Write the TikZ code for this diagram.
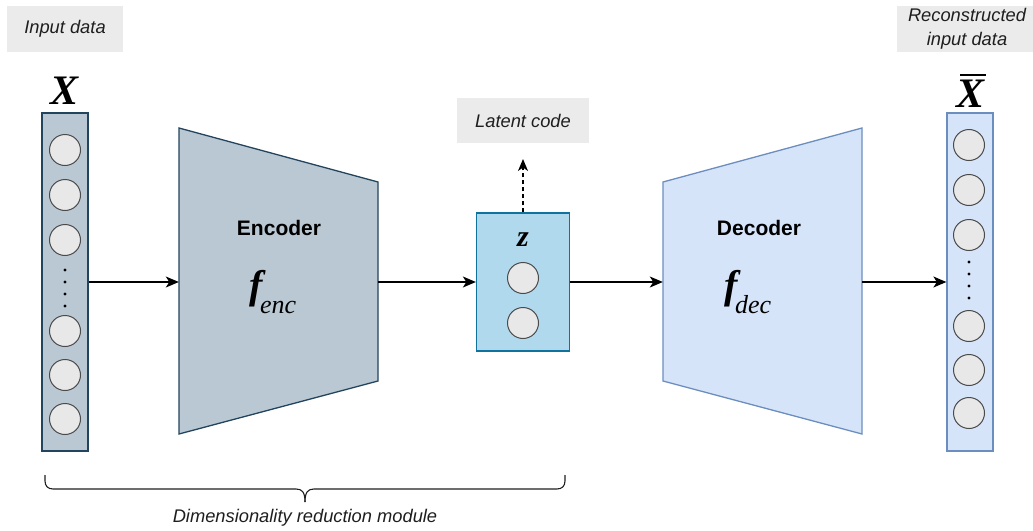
\documentclass[tikz,border=0pt]{standalone}
\usepackage{fontspec}
\setmainfont{Liberation Sans}
\newfontfamily\tnr{Liberation Serif}
\usetikzlibrary{arrows.meta}
\definecolor{encfill}{HTML}{BAC8D3}
\definecolor{encdraw}{HTML}{23445D}
\definecolor{decfill}{HTML}{D6E4FA}
\definecolor{decdraw}{HTML}{6C8EBF}
\definecolor{zfill}{HTML}{B1D9EE}
\definecolor{zdraw}{HTML}{10739E}
\definecolor{cfill}{HTML}{E8E8E8}
\definecolor{cdraw}{HTML}{4A4A4A}
\definecolor{lblfill}{HTML}{EBEBEB}
\definecolor{txt}{HTML}{1E1E1E}
\tikzset{
  lblbox/.style={fill=lblfill, inner sep=0pt, text=txt, font=\fontsize{18.3}{21}\selectfont\itshape, align=center},
  neuron/.style={circle, minimum size=31pt, inner sep=0pt, fill=cfill, draw=cdraw, line width=1pt},
  dotn/.style={circle, minimum size=3.2pt, inner sep=0pt, fill=black},
  flow/.style={line width=1.3pt, -{Stealth[length=13pt,width=11pt,inset=3.5pt]}},
  colbox/.style={rectangle, inner sep=0pt, line width=1.3pt},
  ghost/.style={rectangle, inner sep=0pt},
  bigvar/.style={inner sep=0pt, font=\tnr\fontsize{42}{42}\selectfont\bfseries\itshape},
  blockname/.style={inner sep=0pt, font=\fontsize{21}{24}\selectfont\bfseries},
}
\newcommand{\fsub}[1]{{\tnr\fontsize{40}{40}\selectfont\bfseries\itshape f}\kern-3pt\raisebox{-15pt}{\tnr\fontsize{26}{26}\selectfont\itshape #1}}
\begin{document}
\begin{tikzpicture}[x=1pt,y=-1pt]
\useasboundingbox (0,0) rectangle (1033,530);
% label boxes
\node[lblbox, minimum width=116pt, minimum height=46pt] (inlbl) at (65,29) {Input data};
\node[lblbox, minimum width=132pt, minimum height=45pt] (latlbl) at (523,120.5) {Latent code};
\node[lblbox, minimum width=140pt, minimum height=46pt, font=\fontsize{18.3}{24}\selectfont\itshape] (outlbl) at (967,29) {Reconstructed\\input data};
% left column
\node[colbox, fill=encfill, draw=encdraw, minimum width=46pt, minimum height=338pt] (xcol) at (65,282) {};
\node[bigvar] (xlab) at (65,91) {X};
\foreach \i/\y in {1/150,2/195,3/240,4/331,5/375,6/419}
  \node[neuron] (xn\i) at (65,\y) {};
\foreach \i/\y in {1/270,2/282,3/294,4/306}
  \node[dotn] (xd\i) at (65,\y) {};
% encoder trapezoid
\fill[encfill, draw=encdraw, line width=1.3pt] (179,128) -- (378,182) -- (378,381) -- (179,434) -- cycle;
\node[ghost, minimum width=199pt, minimum height=306pt] (enc) at (278.5,281) {};
\node[blockname] (enctxt) at (279,228) {Encoder};
\node[inner sep=0pt] (fenc) at (273,292) {\fsub{enc}};
% z box
\node[colbox, fill=zfill, draw=zdraw, minimum width=93pt, minimum height=138pt] (zbox) at (523,282) {};
\node[inner sep=0pt, font=\tnr\fontsize{30}{30}\selectfont\bfseries\itshape] (zlab) at (523,240) {z};
\node[neuron] (zn1) at (523,278) {};
\node[neuron] (zn2) at (523,323) {};
% decoder trapezoid
\fill[decfill, draw=decdraw, line width=1.3pt] (663,182) -- (862,128) -- (862,434) -- (663,381) -- cycle;
\node[ghost, minimum width=199pt, minimum height=306pt] (dec) at (762.5,281) {};
\node[blockname] (dectxt) at (759,228) {Decoder};
\node[inner sep=0pt] (fdec) at (748,292) {\fsub{dec}};
% right column
\node[colbox, fill=decfill, draw=decdraw, minimum width=46pt, minimum height=338pt] (ycol) at (970,282) {};
\node[bigvar] (ylab) at (970,91) {\makebox[0pt][l]{\hspace{4pt}\raisebox{32pt}{\rule{26pt}{1.8pt}}}X};
\foreach \i/\y in {1/145,2/190,3/235,4/326,5/370,6/413}
  \node[neuron] (yn\i) at (969,\y) {};
\foreach \i/\y in {1/262,2/274,3/286,4/298}
  \node[dotn] (yd\i) at (969,\y) {};
% connectors
\draw[flow] (xcol.east |- 0,282) -- (enc.west |- 0,282);
\draw[flow] (enc.east |- 0,282) -- (zbox.west |- 0,282);
\draw[flow] (zbox.east |- 0,282) -- (dec.west |- 0,282);
\draw[flow] (dec.east |- 0,282) -- (ycol.west |- 0,282);
\coordinate (lattip) at (523,159);
\draw[line width=1.3pt, dashed, dash pattern=on 4pt off 3pt, -{Stealth[length=12pt,width=10pt,inset=3.5pt]}] (zbox.north) -- (lattip);
% brace
\coordinate (bl) at (45,475);
\coordinate (br) at (565,475);
\coordinate (btip) at (305,502);
\draw[line width=1.1pt, color=txt] (bl) -- (45,481) .. controls (45,486) and (48,489) .. (53,489) -- (296,489) .. controls (302,489) and (305,492) .. (btip);
\draw[line width=1.1pt, color=txt] (br) -- (565,481) .. controls (565,486) and (562,489) .. (557,489) -- (314,489) .. controls (308,489) and (305,492) .. (btip);
\node[inner sep=0pt, text=txt, font=\fontsize{18.3}{21}\selectfont\itshape] (bracelbl) at (305,518) {Dimensionality reduction module};
\end{tikzpicture}
\end{document}
